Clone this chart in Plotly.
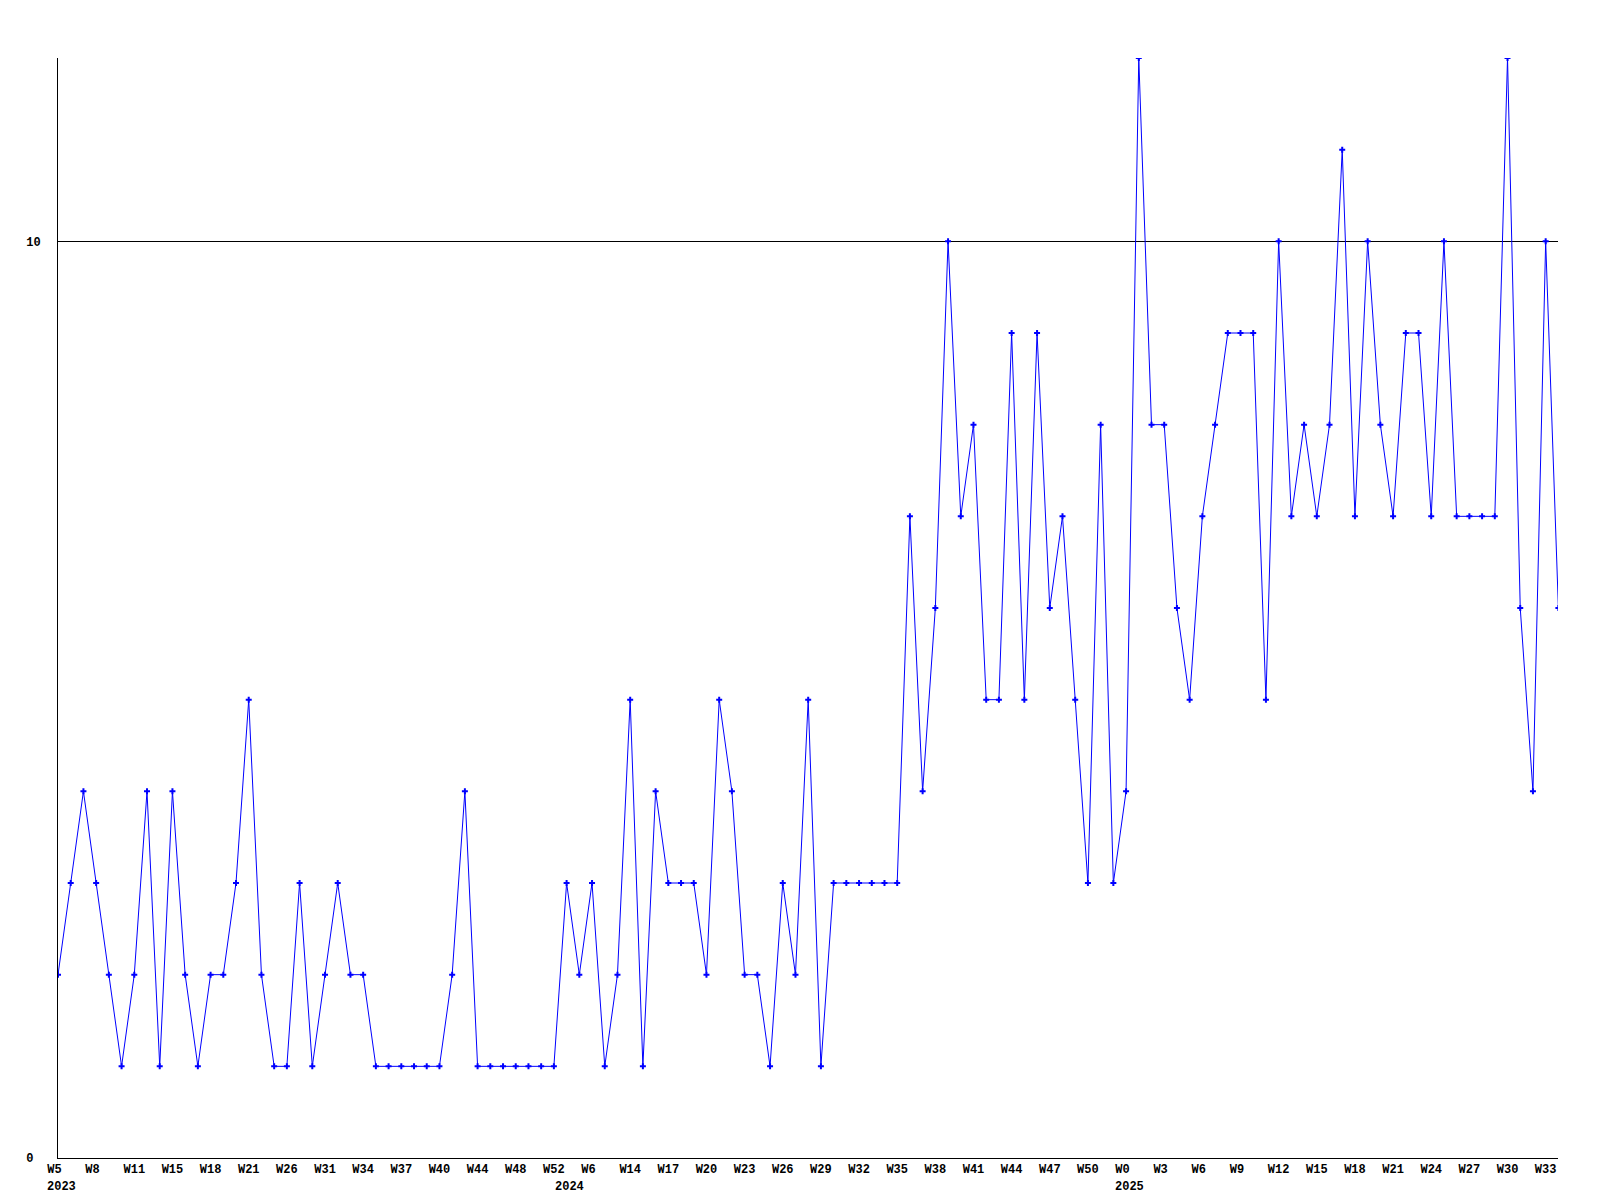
import plotly.graph_objects as go

values = [2, 3, 4, 3, 2, 1, 2, 4, 1, 4,
          2, 1, 2, 2, 3, 5, 2, 1, 1, 3,
          1, 2, 3, 2, 2, 1, 1, 1, 1, 1,
          1, 2, 4, 1, 1, 1, 1, 1, 1, 1,
          3, 2, 3, 1, 2, 5, 1, 4, 3, 3,
          3, 2, 5, 4, 2, 2, 1, 3, 2, 5,
          1, 3, 3, 3, 3, 3, 3, 7, 4, 6,
          10, 7, 8, 5, 5, 9, 5, 9, 6, 7,
          5, 3, 8, 3, 4, 12, 8, 8, 6, 5,
          7, 8, 9, 9, 9, 5, 10, 7, 8, 7,
          8, 11, 7, 10, 8, 7, 9, 9, 7, 10,
          7, 7, 7, 7, 12, 6, 4, 10, 6]

tick_labels = ["W5", "W8", "W11", "W15", "W18", "W21", "W26", "W31", "W34", "W37",
               "W40", "W44", "W48", "W52", "W6", "W14", "W17", "W20", "W23", "W26",
               "W29", "W32", "W35", "W38", "W41", "W44", "W47", "W50", "W0", "W3",
               "W6", "W9", "W12", "W15", "W18", "W21", "W24", "W27", "W30", "W33"]
tick_step = 3

years = ["2023", "2024", "2025"]
year_start_index = [0, 40, 84]

y_ticks = [0, 10]

x_idx = list(range(len(values)))
tickvals = [i * tick_step for i in range(len(tick_labels))]
ticktext = [t + "\u00a0" * (3 - len(t)) for t in tick_labels]

font = dict(family="Liberation Mono", size=12, color="black", weight="bold")

fig = go.Figure()
fig.add_trace(go.Scatter(
    x=x_idx, y=values, mode="lines+markers",
    line=dict(color="#0000ff", width=1),
    marker=dict(symbol="cross", size=5, color="#0000ff", line=dict(width=0)),
    cliponaxis=True, showlegend=False,
))

for yr, idx in zip(years, year_start_index):
    fig.add_annotation(x=idx, y=0, xref="x", yref="paper", text=yr,
                       showarrow=False, yanchor="top", yshift=-20,
                       xshift=3, font=font)

fig.update_layout(
    width=1600, height=1200,
    margin=dict(l=50, r=50, t=50, b=50),
    paper_bgcolor="white", plot_bgcolor="white",
    font=font,
    xaxis=dict(range=[0, 117.97], tickvals=tickvals, ticktext=ticktext,
               showgrid=False, zeroline=False, showline=True,
               linecolor="black", linewidth=1, ticks="", tickfont=font),
    yaxis=dict(range=[0, 12], tickvals=y_ticks,
               ticktext=["0\u00a0", "10"],
               showgrid=True, gridcolor="black", gridwidth=1,
               zeroline=False, showline=True, linecolor="black", linewidth=1,
               ticks="", ticklabelstandoff=14, tickfont=font),
)

fig.write_html("out.html")
